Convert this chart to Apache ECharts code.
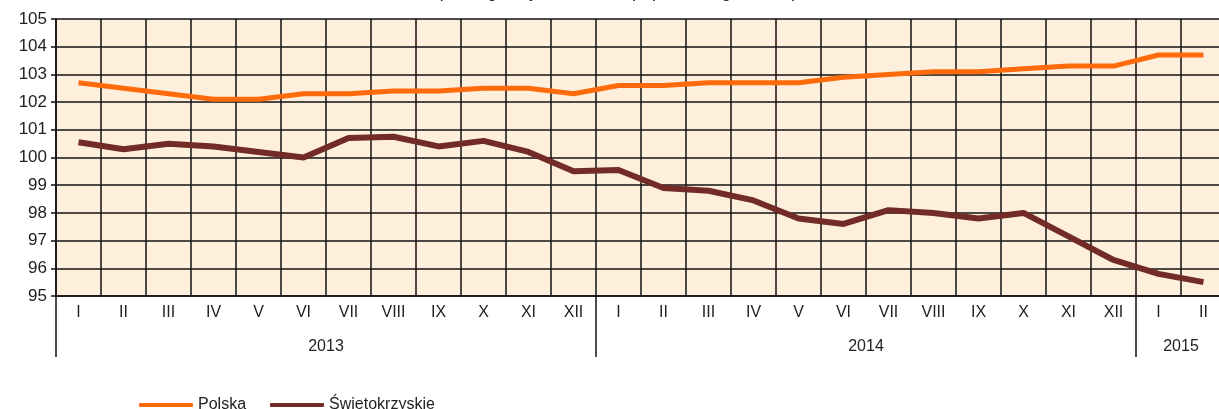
<!DOCTYPE html>
<html>
<head>
<meta charset="utf-8">
<script src="https://cdn.jsdelivr.net/npm/echarts@6/dist/echarts.min.js"></script>
<style>
  html, body { margin: 0; padding: 0; background: #fff; overflow: hidden; }
  /* the source chart is cut off at the right edge, so the canvas runs a bit past the window */
  #chart { width: 1226px; height: 409px; }
</style>
</head>
<body>
<div id="chart"></div>
<script>
  // months (Roman numerals), per year
  const months = ['I','II','III','IV','V','VI','VII','VIII','IX','X','XI','XII',
                  'I','II','III','IV','V','VI','VII','VIII','IX','X','XI','XII',
                  'I','II']
  const years = ['2013', '2014', '2015']
  const yearSpans = [12, 12, 2]

  const polska = [102.7, 102.5, 102.3, 102.1, 102.1, 102.3, 102.3, 102.4, 102.4, 102.5, 102.5, 102.3,
                  102.6, 102.6, 102.7, 102.7, 102.7, 102.9, 103.0, 103.1, 103.1, 103.2, 103.3, 103.3,
                  103.7, 103.7]
  const swietokrzyskie = [100.55, 100.3, 100.5, 100.4, 100.2, 100.0, 100.7, 100.75, 100.4, 100.6, 100.2, 99.5,
                          99.55, 98.9, 98.8, 98.45, 97.8, 97.6, 98.1, 98.0, 97.8, 98.0, 97.15, 96.3,
                          95.8, 95.5]

  // year separators and year label positions (in month units)
  let yearEdges = [0]
  let yearCenters = []
  let acc = 0
  for (let i = 0; i < yearSpans.length; i++) {
    yearCenters.push(acc + yearSpans[i] / 2)
    acc += yearSpans[i]
    if (i < yearSpans.length - 1) yearEdges.push(acc)
  }

  const font = 'Liberation Sans, Arial, sans-serif'
  let myChart = echarts.init(document.getElementById('chart'))
  myChart.setOption({
    animation: false,
    title: {
      text: '(analogiczny okres roku poprzedniego = 100)',
      left: 432,
      top: -22,
      textStyle: { fontFamily: font, fontSize: 18, fontWeight: 'normal', color: '#222' }
    },
    legend: {
      left: 134,
      top: 392,
      icon: 'roundRect',
      itemWidth: 54,
      itemHeight: 4,
      itemGap: 24,
      textStyle: { fontFamily: font, fontSize: 16, color: '#222' },
      data: ['Polska', 'Świętokrzyskie']
    },
    grid: {
      left: 56,
      right: 0,
      top: 19,
      bottom: 113,
      outerBoundsMode: 'none',
      show: true,
      backgroundColor: '#FDEFDC',
      borderWidth: 0
    },
    xAxis: [
      {
        type: 'category',
        data: months,
        boundaryGap: true,
        axisLine: { lineStyle: { color: '#111', width: 1.5 } },
        axisTick: { interval: 0, length: 37, lineStyle: { color: '#111', width: 1.5 } },
        axisLabel: { interval: 0, margin: 9, fontFamily: font, fontSize: 16, color: '#222' },
        splitLine: { show: true, interval: 0, lineStyle: { color: '#111', width: 1.5 } }
      },
      {
        type: 'value',
        min: 0,
        max: months.length,
        position: 'bottom',
        axisLine: { show: false },
        axisTick: { show: true, customValues: yearEdges, length: 61, lineStyle: { color: '#111', width: 1.5 } },
        axisLabel: {
          customValues: yearCenters,
          margin: 43,
          fontFamily: font, fontSize: 16, color: '#222',
          formatter: function (v) {
            let idx = yearCenters.indexOf(v)
            return idx >= 0 ? years[idx] : ''
          }
        },
        splitLine: { show: false }
      }
    ],
    yAxis: {
      type: 'value',
      min: 95,
      max: 105,
      interval: 1,
      axisLine: { show: true, lineStyle: { color: '#111', width: 1.5 } },
      axisTick: { show: true, length: 5, lineStyle: { color: '#111', width: 1.5 } },
      axisLabel: { margin: 9, fontFamily: font, fontSize: 17, color: '#222' },
      splitLine: { show: true, lineStyle: { color: '#111', width: 1.5 } }
    },
    series: [
      {
        name: 'Polska',
        type: 'line',
        data: polska,
        color: '#FF6A0A',
        symbol: 'none',
        lineStyle: { width: 5, color: '#FF6A0A' }
      },
      {
        name: 'Świętokrzyskie',
        type: 'line',
        data: swietokrzyskie,
        color: '#722B26',
        symbol: 'none',
        lineStyle: { width: 6, color: '#722B26' }
      }
    ]
  })
</script>
</body>
</html>
